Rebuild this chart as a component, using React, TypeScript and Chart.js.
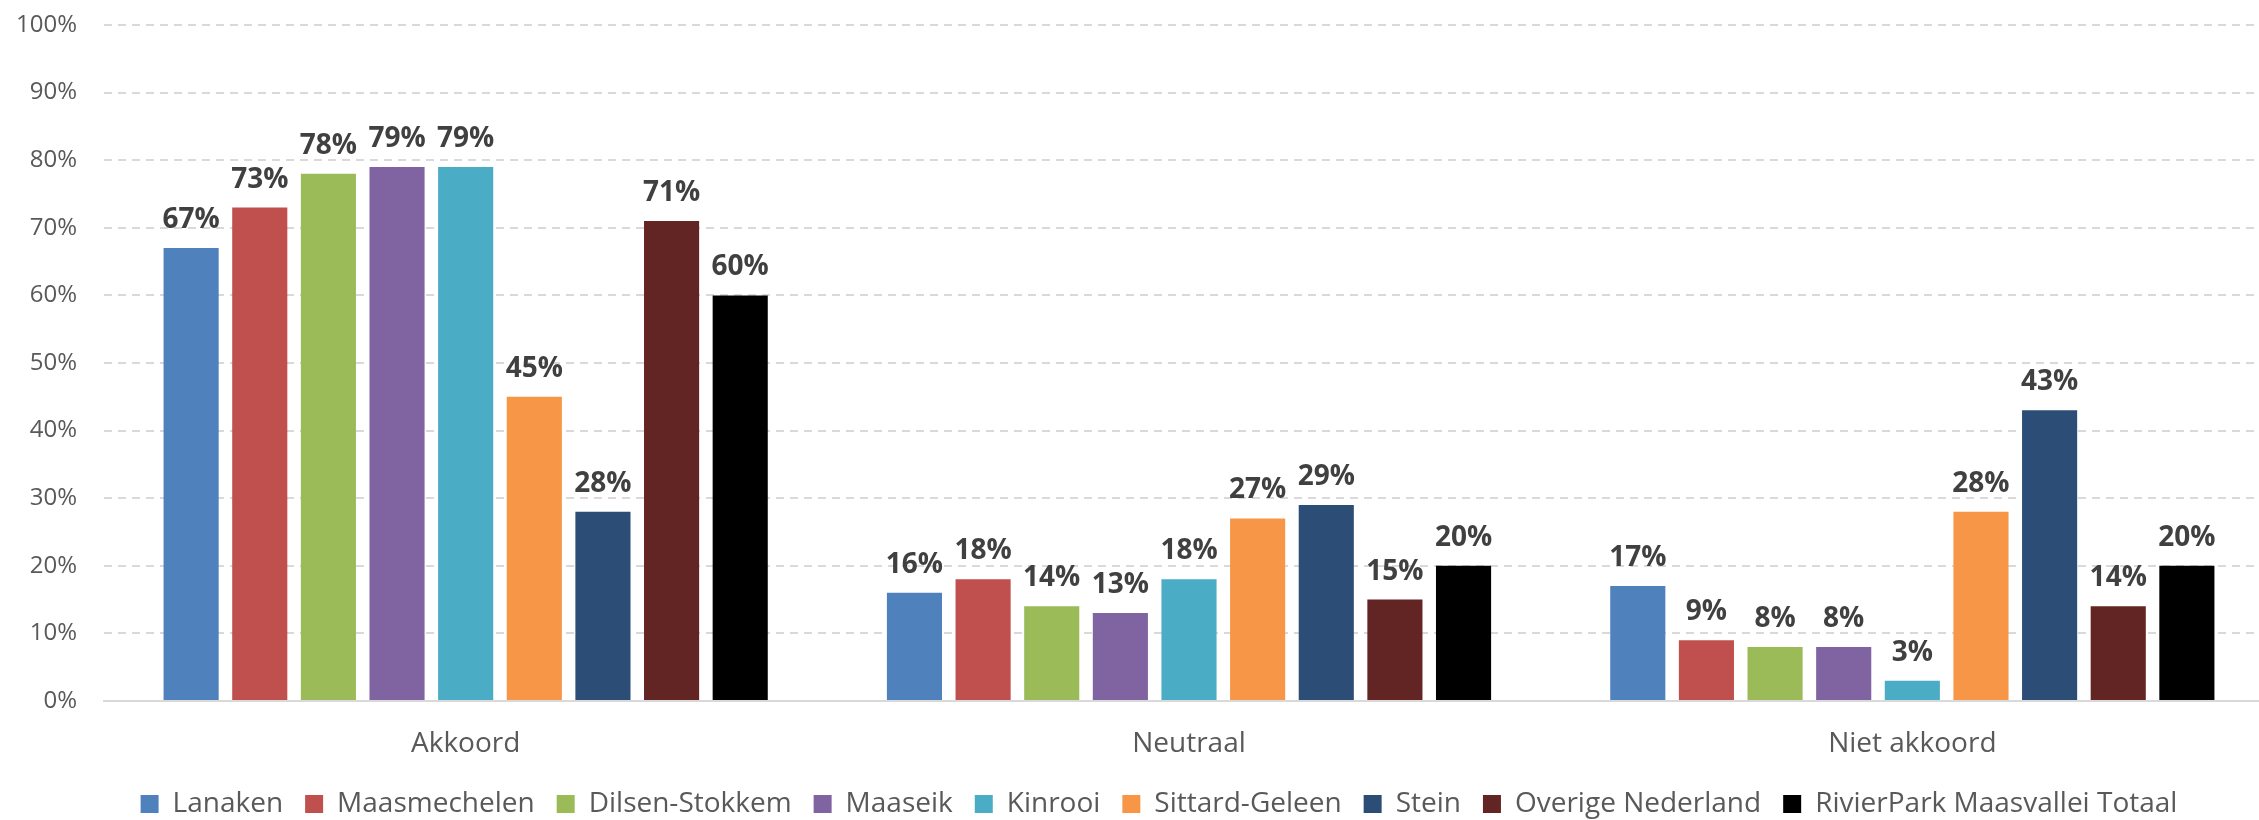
import React, { useEffect, useRef } from "react";
import { Chart, registerables } from "chart.js";

Chart.register(...registerables);

const categories = ["Akkoord", "Neutraal", "Niet akkoord"];
const seriesNames = [
  "Lanaken",
  "Maasmechelen",
  "Dilsen-Stokkem",
  "Maaseik",
  "Kinrooi",
  "Sittard-Geleen",
  "Stein",
  "Overige Nederland",
  "RivierPark Maasvallei Totaal",
];
const lanaken = [67, 16, 17];
const maasmechelen = [73, 18, 9];
const dilsenStokkem = [78, 14, 8];
const maaseik = [79, 13, 8];
const kinrooi = [79, 18, 3];
const sittardGeleen = [45, 27, 28];
const stein = [28, 29, 43];
const overigeNederland = [71, 15, 14];
const totaal = [60, 20, 20];
const seriesValues = [lanaken, maasmechelen, dilsenStokkem, maaseik, kinrooi, sittardGeleen, stein, overigeNederland, totaal];
const seriesColors = ["#4F81BD", "#C0504D", "#9BBB59", "#8064A2", "#4BACC6", "#F79646", "#2C4D75", "#632523", "#000000"];
const yTicks = [0, 10, 20, 30, 40, 50, 60, 70, 80, 90, 100];

const FONT = '"Open Sans", sans-serif';

const barLabels = {
  id: "barLabels",
  afterDatasetsDraw(chart: any) {
    const ctx = chart.ctx;
    ctx.save();
    ctx.font = `bold 28px ${FONT}`;
    ctx.fillStyle = "#404040";
    ctx.textAlign = "center";
    ctx.textBaseline = "alphabetic";
    chart.data.datasets.forEach((ds: any, i: number) => {
      const meta = chart.getDatasetMeta(i);
      meta.data.forEach((el: any, j: number) => {
        ctx.fillText(ds.data[j] + "%", el.x, el.y - 20);
      });
    });
    ctx.restore();
  },
};

const legendShift = {
  id: "legendShift",
  afterLayout(chart: any) {
    if (chart.legend) {
      chart.legend.left += 22;
      chart.legend.right += 22;
    }
  },
};

export default function App() {
  const ref = useRef<HTMLCanvasElement>(null);
  useEffect(() => {
    if (!ref.current) return;
    const chart = new Chart(ref.current, {
      type: "bar",
      data: {
        labels: categories,
        datasets: seriesNames.map((name, i) => ({
          label: name,
          data: seriesValues[i],
          backgroundColor: seriesColors[i],
          borderWidth: 0,
          barPercentage: 0.803,
          categoryPercentage: 0.854,
        })),
      },
      options: {
        animation: false,
        responsive: true,
        maintainAspectRatio: false,
        layout: { padding: { top: 25, right: 6, bottom: 0, left: 0 } },
        plugins: {
          legend: {
            position: "bottom",
            labels: {
              font: { family: FONT, size: 28 },
              color: "#595959",
              boxWidth: 18,
              boxHeight: 18,
              padding: 22,
            },
          },
          tooltip: { enabled: false },
        },
        scales: {
          x: {
            afterFit: (scale: any) => {
              scale.height = 67;
            },
            grid: {
              display: true,
              drawOnChartArea: false,
              drawTicks: true,
              tickLength: 26,
              color: "rgba(0,0,0,0)",
              tickColor: "rgba(0,0,0,0)",
            },
            border: { display: true, color: "#d9d9d9", width: 2 },
            ticks: { font: { family: FONT, size: 28 }, color: "#595959", padding: 0 },
          },
          y: {
            min: 0,
            max: 100,
            afterFit: (scale: any) => {
              scale.width = 104;
            },
            afterBuildTicks: (scale: any) => {
              scale.ticks = yTicks.map((v) => ({ value: v }));
            },
            grid: {
              color: "#d9d9d9",
              lineWidth: 2,
              drawTicks: true,
              tickLength: 27,
              tickColor: "rgba(0,0,0,0)",
            },
            border: { display: false, dash: [8, 6] },
            ticks: {
              font: { family: FONT, size: 24 },
              color: "#595959",
              padding: 0,
              callback: (v: any) => v + "%",
            },
          },
        },
      },
      plugins: [barLabels, legendShift],
    });
    return () => chart.destroy();
  }, []);
  return (
    <div style={{ position: "absolute", left: 0, top: 0, width: 2259, height: 820, overflow: "hidden", background: "#fff" }}>
      <div style={{ position: "absolute", left: 0, top: 0, width: 2280, height: 828 }}>
        <canvas ref={ref} />
      </div>
    </div>
  );
}
